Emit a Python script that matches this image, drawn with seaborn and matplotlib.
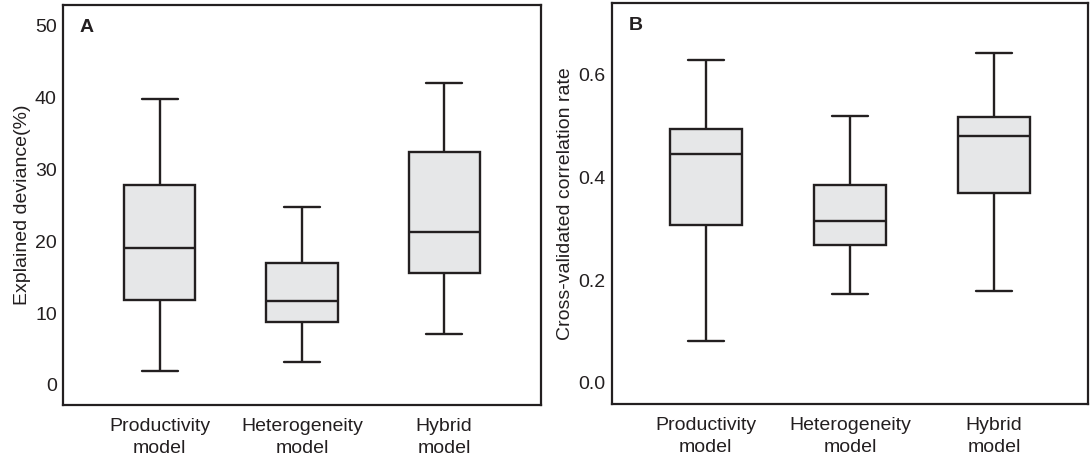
import numpy as np
import pandas as pd
import matplotlib
matplotlib.use("Agg")
import matplotlib.pyplot as plt
import seaborn as sns

models = ["Productivity\nmodel", "Heterogeneity\nmodel", "Hybrid\nmodel"]

# five-number summaries: min, Q1, median, Q3, max
dev_prod = [1.9, 11.8, 19.0, 27.8, 39.7]
dev_het = [3.2, 8.75, 11.7, 16.9, 24.7]
dev_hyb = [7.1, 15.6, 21.25, 32.4, 42.0]

cor_prod = [0.082, 0.308, 0.446, 0.495, 0.629]
cor_het = [0.173, 0.269, 0.315, 0.386, 0.520]
cor_hyb = [0.179, 0.370, 0.481, 0.518, 0.643]

dev_ticks = [0, 10, 20, 30, 40, 50]
cor_ticks = [0.0, 0.2, 0.4, 0.6]

def long_df(series):
    rows = []
    for m, vals in zip(models, series):
        for v in vals:
            rows.append({"model": m, "value": v})
    return pd.DataFrame(rows)

df_a = long_df([dev_prod, dev_het, dev_hyb])
df_b = long_df([cor_prod, cor_het, cor_hyb])

sns.set_theme(style="white")
plt.rcParams["font.family"] = ["Liberation Sans", "DejaVu Sans"]

edge = "#231f20"
fill = "#e6e7e8"

fig = plt.figure(figsize=(10.9, 4.62), dpi=100)
ax_a = fig.add_axes([0.0578, 0.1234, 0.4385, 0.8655])
ax_b = fig.add_axes([0.5615, 0.1255, 0.4365, 0.868])

def draw(ax, df):
    sns.boxplot(data=df, x="model", y="value", ax=ax, order=models,
                whis=(0, 100), width=0.5, color=fill, saturation=1,
                linecolor=edge, linewidth=1.7, fliersize=0)
    for sp in ax.spines.values():
        sp.set_color(edge)
        sp.set_linewidth(1.6)
    ax.tick_params(axis="both", length=0, labelsize=14, colors="#231f20")
    ax.tick_params(axis="y", pad=4.5)
    ax.tick_params(axis="x", pad=9.5)
    for lbl in ax.get_xticklabels():
        lbl.set_linespacing(1.35)
    ax.set_xlabel("")

draw(ax_a, df_a)
draw(ax_b, df_b)

ax_a.set_ylim(-2.78, 52.78)
ax_a.set_yticks(dev_ticks)
ax_a.set_xlim(-0.68, 2.68)
ax_a.set_ylabel("Explained deviance(%)", fontsize=14, color=edge, labelpad=3)
ax_a.text(0.035, 0.965, "A", transform=ax_a.transAxes, fontsize=14,
          fontweight="bold", va="top", ha="left", color=edge)

ax_b.set_ylim(-0.041, 0.74)
ax_b.set_yticks(cor_ticks)
ax_b.set_yticklabels([f"{t:.1f}" for t in cor_ticks])
ax_b.set_xlim(-0.65, 2.65)
ax_b.set_ylabel("Cross-validated correlation rate", fontsize=14, color=edge, labelpad=3)
ax_b.text(0.035, 0.965, "B", transform=ax_b.transAxes, fontsize=14,
          fontweight="bold", va="top", ha="left", color=edge)

fig.savefig("out.png", dpi=100)
